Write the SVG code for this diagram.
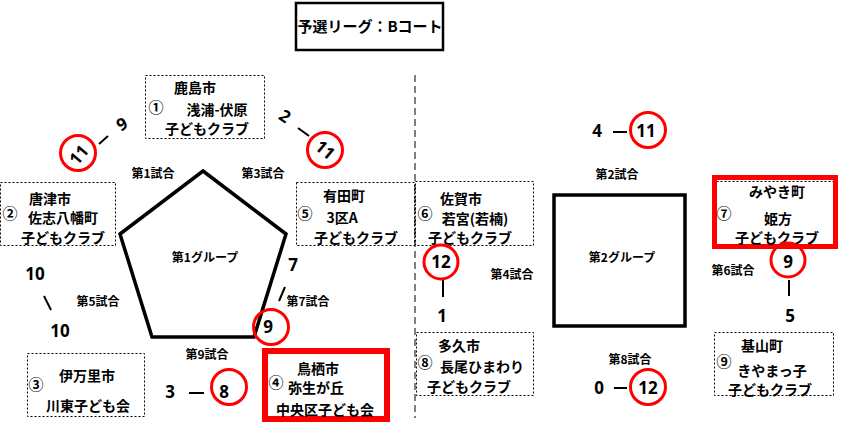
<svg xmlns="http://www.w3.org/2000/svg" width="865" height="436" viewBox="0 0 865 436">
<style>
text{font-family:"Noto Sans CJK JP","Noto Sans",sans-serif;font-weight:bold;fill:#000;text-anchor:middle}
.nd{font-size:14px}
.num{font-size:15px}
.lbl{font-size:12px}
.grp{font-size:12px}
.sc{font-family:"Noto Sans","DejaVu Sans",sans-serif;font-size:17px}
.dot{fill:none;stroke:#000;stroke-width:1;stroke-dasharray:2,2}
.red{fill:none;stroke:#ff0000}
.ring{fill:none;stroke:#ff0000;stroke-width:3}
.shape{fill:#fff;stroke:#000;stroke-width:3.5}
.ln{stroke:#000;stroke-width:2;fill:none}
</style>
<rect width="865" height="436" fill="#fff"/>
<g id="title">
<rect x="296" y="3" width="147" height="47" fill="#fff" stroke="#000" stroke-width="2.5"/>
<text x="370" y="32" style="font-size:15px">予選リーグ：Bコート</text>
</g>
<line x1="415" y1="75" x2="415" y2="418" stroke="#000" stroke-width="1" stroke-dasharray="7,4"/>
<g id="group1">
<polygon class="shape" points="203,171 286,234 254,337 152,337 120,234"/>
<text class="grp" x="205" y="262">第1グループ</text>
</g>
<g id="group2">
<rect class="shape" x="554" y="195" width="131" height="131"/>
<text class="grp" x="622" y="262">第2グループ</text>
</g>
<g id="node1">
<rect class="dot" x="145.5" y="75.5" width="119" height="63"/>
<text class="nd" x="195" y="93">鹿島市</text>
<text class="num" x="156" y="113">①</text>
<text class="nd" x="217" y="115">浅浦-伏原</text>
<text class="nd" x="207" y="134">子どもクラブ</text>
</g>
<g id="node2">
<rect class="dot" x="0.5" y="182.5" width="115" height="63"/>
<text class="nd" x="50" y="204">唐津市</text>
<text class="num" x="10" y="219">②</text>
<text class="nd" x="63" y="223">佐志八幡町</text>
<text class="nd" x="63" y="243">子どもクラブ</text>
</g>
<g id="node5">
<rect class="dot" x="296.5" y="182.5" width="118" height="63"/>
<text class="nd" x="344" y="201">有田町</text>
<text class="num" x="305" y="219">⑤</text>
<text class="nd" x="342" y="223">3区A</text>
<text class="nd" x="356" y="243">子どもクラブ</text>
</g>
<g id="node6">
<rect class="dot" x="415.5" y="181.5" width="118" height="64"/>
<text class="nd" x="461" y="204">佐賀市</text>
<text class="num" x="425" y="219">⑥</text>
<text class="nd" x="475" y="224">若宮(若楠)</text>
<text class="nd" x="470" y="243">子どもクラブ</text>
</g>
<g id="node7">
<rect class="dot" x="716.5" y="181.5" width="118" height="64"/>
<rect class="red" x="714.5" y="177.5" width="121" height="69" stroke-width="5"/>
<text class="nd" x="777" y="197">みやき町</text>
<text class="num" x="724" y="219">⑦</text>
<text class="nd" x="778" y="224">姫方</text>
<text class="nd" x="777" y="243">子どもクラブ</text>
</g>
<g id="node8">
<rect class="dot" x="416.5" y="332.5" width="117" height="63"/>
<text class="nd" x="459" y="351">多久市</text>
<text class="num" x="425" y="368">⑧</text>
<text class="nd" x="482" y="372">長尾ひまわり</text>
<text class="nd" x="469" y="392">子どもクラブ</text>
</g>
<g id="node9">
<rect class="dot" x="714.5" y="332.5" width="119" height="63"/>
<text class="nd" x="762" y="351">基山町</text>
<text class="num" x="724" y="367">⑨</text>
<text class="nd" x="772" y="376">きやまっ子</text>
<text class="nd" x="770" y="395">子どもクラブ</text>
</g>
<g id="node3">
<rect class="dot" x="27.5" y="353.5" width="117" height="63"/>
<text class="nd" x="87" y="381">伊万里市</text>
<text class="num" x="36" y="390">③</text>
<text class="nd" x="88" y="411">川東子ども会</text>
</g>
<g id="node4">
<rect class="red" x="265" y="351" width="122" height="68" stroke-width="6"/>
<text class="nd" x="318" y="373.5">鳥栖市</text>
<text class="num" x="276" y="388">④</text>
<text class="nd" x="316" y="392.5">弥生が丘</text>
<text class="nd" x="325" y="415">中央区子ども会</text>
</g>
<g id="connectors">
<text class="lbl" x="153" y="178">第1試合</text>
<text class="lbl" x="263" y="178">第3試合</text>
<text class="lbl" x="98" y="306">第5試合</text>
<text class="lbl" x="308" y="306">第7試合</text>
<text class="lbl" x="207" y="359">第9試合</text>
<text class="lbl" x="617" y="179">第2試合</text>
<text class="lbl" x="512" y="279">第4試合</text>
<text class="lbl" x="733" y="275">第6試合</text>
<text class="lbl" x="630" y="364">第8試合</text>

<circle class="ring" cx="78" cy="153" r="17.5"/>
<text class="sc" x="0" y="6" transform="translate(79,155) rotate(-50)">11</text>
<line class="ln" x1="99" y1="144" x2="108" y2="136"/>
<text class="sc" x="0" y="6" transform="translate(122,124) rotate(-30)">9</text>

<text class="sc" x="0" y="6" transform="translate(285,116) rotate(35)">2</text>
<line class="ln" x1="298" y1="128" x2="309" y2="136"/>
<circle class="ring" cx="325" cy="150" r="17.5"/>
<text class="sc" x="0" y="6" transform="translate(325,150) rotate(40)">11</text>

<text class="sc" x="35" y="280">10</text>
<line class="ln" x1="44" y1="296" x2="51" y2="310"/>
<text class="sc" x="60" y="337">10</text>

<text class="sc" x="293" y="271">7</text>
<line class="ln" x1="285" y1="287" x2="279" y2="301"/>
<circle class="ring" cx="271" cy="327" r="17.5"/>
<text class="sc" x="268" y="333">9</text>

<text class="sc" x="170" y="398">3</text>
<line class="ln" x1="189" y1="393" x2="204" y2="393"/>
<circle class="ring" cx="229" cy="387" r="17.5"/>
<text class="sc" x="224" y="398">8</text>

<text class="sc" x="597" y="137">4</text>
<line class="ln" x1="613" y1="132" x2="627" y2="132"/>
<circle class="ring" cx="648" cy="130" r="17.5"/>
<text class="sc" x="646" y="137">11</text>

<circle class="ring" cx="441" cy="262" r="17"/>
<text class="sc" x="441" y="268">12</text>
<line class="ln" x1="443" y1="280" x2="443" y2="297"/>
<text class="sc" x="442" y="322">1</text>

<circle class="ring" cx="788" cy="260" r="17"/>
<text class="sc" x="788" y="268">9</text>
<line class="ln" x1="789" y1="280" x2="789" y2="296"/>
<text class="sc" x="790" y="322">5</text>

<text class="sc" x="599" y="394">0</text>
<line class="ln" x1="614" y1="388" x2="627" y2="388"/>
<circle class="ring" cx="648" cy="387" r="17.5"/>
<text class="sc" x="648" y="394">12</text>
</g>
</svg>
